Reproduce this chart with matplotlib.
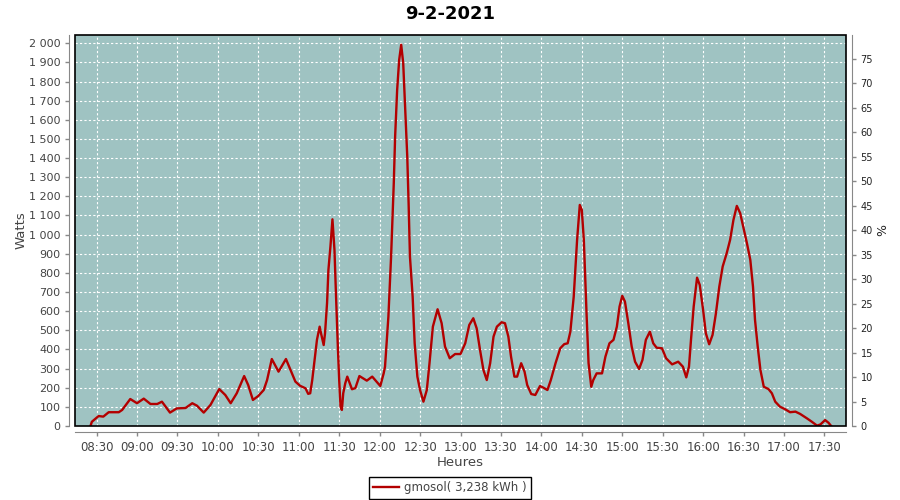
import matplotlib
matplotlib.use('Agg')

import matplotlib.pyplot as plt
import matplotlib.dates as mdates
import pandas as pd
from matplotlib.patches import Rectangle
from matplotlib.ticker import FuncFormatter, MultipleLocator

plt.rcParams['font.family'] = ['DejaVu Sans']

day = "2021-02-09"
title = "9-2-2021"
series_name = "gmosol( 3,238 kWh )"

heures = [
    "08:25:30", "08:26:30", "08:31:30", "08:35:00", "08:39:00", "08:46:30", "08:49:00", "08:55:00",
    "09:00:00", "09:05:00", "09:10:00", "09:15:00", "09:18:30", "09:24:30", "09:29:30", "09:36:00",
    "09:41:00", "09:44:30", "09:49:30", "09:54:30", "10:01:00", "10:05:30", "10:09:30", "10:14:00",
    "10:19:30", "10:22:30", "10:26:00", "10:30:00", "10:34:00", "10:36:30", "10:40:00", "10:45:00",
    "10:50:30", "10:55:00", "10:57:30", "11:01:00", "11:05:00", "11:07:00", "11:08:30", "11:10:00",
    "11:11:30", "11:13:30", "11:15:30", "11:16:30", "11:18:30", "11:19:30", "11:21:00", "11:22:00",
    "11:23:30", "11:25:00", "11:26:30", "11:27:30", "11:29:00", "11:30:00", "11:31:00", "11:32:00",
    "11:33:00", "11:34:30", "11:36:00", "11:39:30", "11:42:00", "11:45:00", "11:50:30", "11:54:30",
    "12:00:30", "12:03:00", "12:04:00", "12:06:30", "12:08:30", "12:10:30", "12:11:30", "12:13:00",
    "12:14:30", "12:16:00", "12:17:30", "12:19:00", "12:20:30", "12:21:30", "12:22:30", "12:24:30",
    "12:26:00", "12:28:00", "12:30:00", "12:32:30", "12:35:00", "12:37:00", "12:39:30", "12:43:00",
    "12:46:00", "12:48:30", "12:52:00", "12:56:00", "13:00:00", "13:03:30", "13:06:30", "13:09:30",
    "13:12:00", "13:14:30", "13:17:00", "13:19:30", "13:22:00", "13:24:30", "13:27:00", "13:30:30",
    "13:33:00", "13:35:30", "13:37:30", "13:40:00", "13:42:00", "13:45:00", "13:47:30", "13:49:30",
    "13:52:30", "13:55:30", "13:59:00", "14:01:30", "14:04:30", "14:07:00", "14:10:30", "14:14:00",
    "14:17:00", "14:19:30", "14:21:30", "14:24:00", "14:26:30", "14:28:30", "14:30:00", "14:31:30",
    "14:33:30", "14:35:00", "14:37:00", "14:38:30", "14:41:00", "14:45:00", "14:47:30", "14:50:30",
    "14:53:30", "14:56:00", "14:58:00", "15:00:00", "15:02:00", "15:04:30", "15:07:00", "15:09:30",
    "15:12:30", "15:15:00", "15:17:30", "15:20:30", "15:23:00", "15:25:30", "15:29:30", "15:32:30",
    "15:37:00", "15:41:30", "15:45:00", "15:47:30", "15:49:30", "15:51:00", "15:53:00", "15:55:30",
    "15:57:30", "16:00:00", "16:02:00", "16:04:30", "16:07:00", "16:09:30", "16:12:00", "16:14:30",
    "16:17:30", "16:20:00", "16:22:30", "16:25:00", "16:27:30", "16:30:00", "16:32:30", "16:35:00",
    "16:37:00", "16:38:30", "16:40:30", "16:42:30", "16:45:00", "16:48:30", "16:51:00", "16:53:30",
    "16:57:00", "17:01:00", "17:04:30", "17:08:30", "17:12:00", "17:17:00", "17:20:30", "17:24:30",
    "17:27:00", "17:30:30", "17:33:00", "17:35:00",
]

watts = [
    0, 22, 52, 49, 72, 72, 84, 141,
    119, 143, 115, 115, 127, 70, 92, 94,
    119, 106, 70, 110, 193, 162, 119, 171,
    261, 214, 136, 157, 188, 240, 350, 284,
    350, 275, 232, 210, 197, 168, 171, 240,
    328, 450, 519, 485, 423, 485, 643, 815,
    937, 1080, 920, 711, 415, 240, 101, 84,
    171, 223, 258, 192, 198, 261, 237, 258,
    209, 275, 310, 571, 885, 1269, 1512, 1756,
    1913, 1992, 1896, 1652, 1408, 1164, 885, 676,
    432, 258, 188, 127, 188, 328, 519, 610,
    537, 415, 354, 376, 376, 432, 528, 563,
    510, 397, 293, 240, 328, 467, 519, 542,
    537, 467, 362, 258, 258, 328, 284, 214,
    167, 162, 209, 200, 188, 240, 328, 406,
    428, 432, 493, 676, 972, 1155, 1129, 972,
    590, 329, 205, 240, 275, 275, 362, 432,
    450, 519, 624, 680, 650, 537, 415, 336,
    298, 345, 450, 493, 432, 409, 406, 354,
    322, 336, 310, 254, 310, 450, 624, 775,
    737, 606, 485, 427, 476, 589, 728, 833,
    903, 972, 1077, 1150, 1112, 1033, 955, 868,
    728, 554, 415, 293, 205, 193, 171, 127,
    101, 87, 72, 75, 63, 40, 23, 2,
    8, 31, 17, 0,
]

# puissance crete pour l'axe en %
p_ref = 2560.0
w_max = 2043

t = pd.to_datetime([day + " " + h for h in heures])

fig = plt.figure(figsize=(9, 5), dpi=100)
ax = fig.add_axes([75 / 900, 74 / 500, 771 / 900, 391 / 500])
ax.set_facecolor("#9fc3c2")

ax.plot(t, watts, color="#b30000", lw=1.7, label=series_name)

ax.set_xlim(pd.Timestamp(day + " 08:14"), pd.Timestamp(day + " 17:46"))
ax.set_ylim(0, w_max)
ax.xaxis.set_major_locator(mdates.MinuteLocator(byminute=[0, 30]))
ax.xaxis.set_major_formatter(mdates.DateFormatter("%H:%M"))
ax.yaxis.set_major_locator(MultipleLocator(100))
ax.yaxis.set_major_formatter(FuncFormatter(lambda v, p: f"{v:,.0f}".replace(",", " ")))
ax.grid(True, color="white", lw=0.8, linestyle=(0, (2, 2)))

for s in ["top", "right"]:
    ax.spines[s].set_visible(False)
for s in ["left", "bottom"]:
    ax.spines[s].set_position(("outward", 4))
    ax.spines[s].set_color("#888888")
ax.add_patch(Rectangle((0, 0), 1, 1, transform=ax.transAxes, fill=False,
                       edgecolor="black", lw=1.2, clip_on=False, zorder=5))
ax.tick_params(axis="both", colors="#888888", labelcolor="#444444", labelsize=8, length=3, width=1)
ax.tick_params(axis="x", labelsize=8.5)

ax.set_xlabel("Heures", fontsize=9.5, color="#444444", labelpad=2)
ax.set_ylabel("Watts", fontsize=9.5, color="#444444", labelpad=1)

ax2 = ax.twinx()
ax2.set_ylim(0, w_max / p_ref * 100)
ax2.yaxis.set_major_locator(MultipleLocator(5))
for s in ["top", "left", "bottom"]:
    ax2.spines[s].set_visible(False)
ax2.spines["right"].set_position(("outward", 4))
ax2.spines["right"].set_color("#888888")
ax2.tick_params(axis="y", colors="#888888", labelcolor="#222222", labelsize=7, length=3, width=1)
ax2.set_ylabel("%", fontsize=9, color="#222222", labelpad=2)

fig.text(0.5, 1 - 14 / 500, title, ha="center", va="center", fontsize=13, fontweight="bold")

leg = fig.legend(loc="center", bbox_to_anchor=(0.5, 1 - 488 / 500), fontsize=8.5,
                 fancybox=False, framealpha=1, edgecolor="black", handlelength=2.2,
                 borderpad=0.35, handletextpad=0.4)
leg.get_frame().set_linewidth(1)
for txt in leg.get_texts():
    txt.set_color("#444444")

fig.savefig("out.png", dpi=100)
